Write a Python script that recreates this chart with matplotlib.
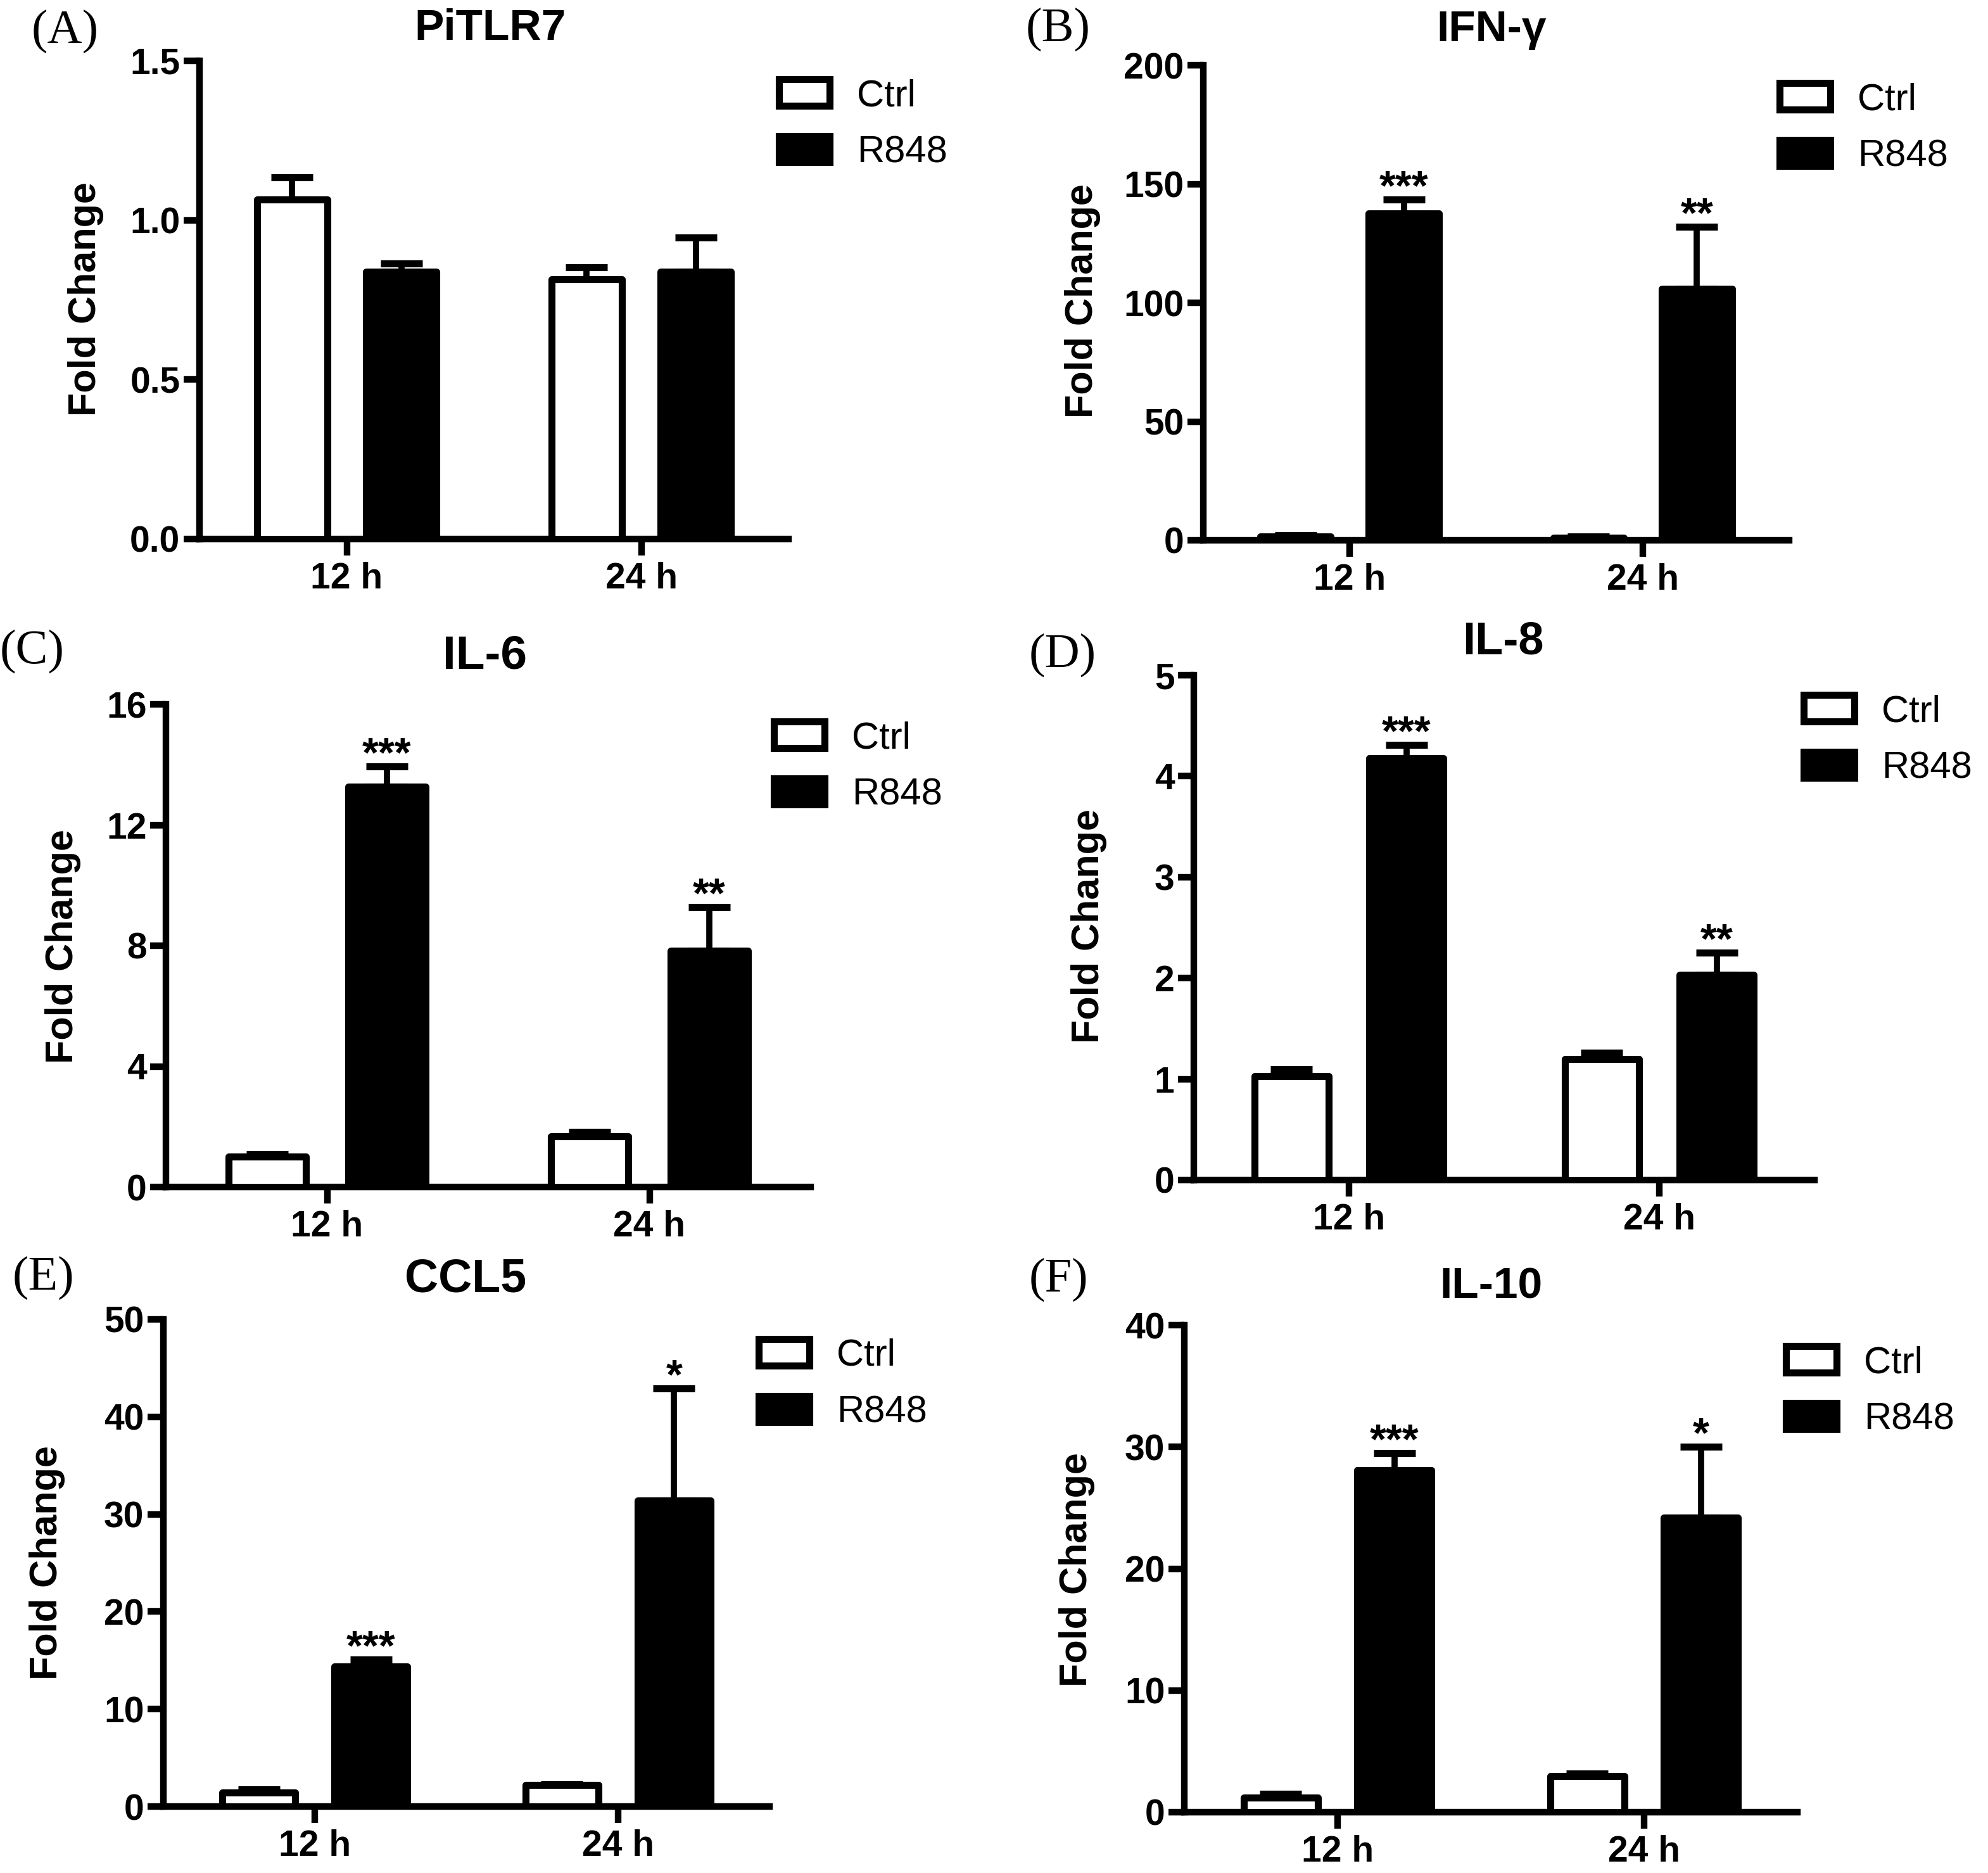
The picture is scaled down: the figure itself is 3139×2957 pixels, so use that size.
import numpy as np
import matplotlib
matplotlib.use('Agg')
from matplotlib import pyplot as plt

W, H = 3139, 2957
DPI = 100

groups = ['12 h', '24 h']
series_names = ['Ctrl', 'R848']

# (A) PiTLR7
tlr7_ctrl = [1.064, 0.815]
tlr7_ctrl_err = [0.071, 0.037]
tlr7_r848 = [0.839, 0.839]
tlr7_r848_err = [0.025, 0.107]
tlr7_stars = ['', '']
tlr7_yticks = [0.0, 0.5, 1.0, 1.5]

# (B) IFN-γ
ifng_ctrl = [1.6, 1.1]
ifng_ctrl_err = [0.6, 0.4]
ifng_r848 = [137.7, 106.0]
ifng_r848_err = [5.7, 26.0]
ifng_stars = ['***', '**']
ifng_yticks = [0, 50, 100, 150, 200]

# (C) IL-6
il6_ctrl = [1.0, 1.67]
il6_ctrl_err = [0.1, 0.16]
il6_r848 = [13.26, 7.84]
il6_r848_err = [0.69, 1.44]
il6_stars = ['***', '**']
il6_yticks = [0, 4, 8, 12, 16]

# (D) IL-8
il8_ctrl = [1.03, 1.20]
il8_ctrl_err = [0.07, 0.06]
il8_r848 = [4.18, 2.03]
il8_r848_err = [0.13, 0.22]
il8_stars = ['***', '**']
il8_yticks = [0, 1, 2, 3, 4, 5]

# (E) CCL5
ccl5_ctrl = [1.44, 2.19]
ccl5_ctrl_err = [0.33, 0.08]
ccl5_r848 = [14.4, 31.4]
ccl5_r848_err = [0.66, 11.5]
ccl5_stars = ['***', '*']
ccl5_yticks = [0, 10, 20, 30, 40, 50]

# (F) IL-10
il10_ctrl = [1.22, 2.98]
il10_ctrl_err = [0.27, 0.17]
il10_r848 = [28.1, 24.2]
il10_r848_err = [1.4, 5.8]
il10_stars = ['***', '*']
il10_yticks = [0, 10, 20, 30, 40]

plt.rcParams['font.family'] = ['Liberation Sans', 'DejaVu Sans']

# panel: label, title, data..., layout in pixels (left, right, top, bottom),
# title (x, y, size), panel label (x, y), ylabel (x, y), legend (x, y of first row centre)
panels = [
    ('(A)', 'PiTLR7', tlr7_ctrl, tlr7_ctrl_err, tlr7_r848, tlr7_r848_err, tlr7_stars, tlr7_yticks, '%.1f',
     (315, 1245, 96, 851), (774, 45, 50), (50, 49), (135, 472), (1230, 147)),
    ('(B)', 'IFN-γ', ifng_ctrl, ifng_ctrl_err, ifng_r848, ifng_r848_err, ifng_stars, ifng_yticks, '%d',
     (1900, 2825, 103, 853), (2355, 47, 50), (1620, 46), (1710, 475), (2810, 153)),
    ('(C)', 'IL-6', il6_ctrl, il6_ctrl_err, il6_r848, il6_r848_err, il6_stars, il6_yticks, '%d',
     (262, 1280, 1112, 1874), (766, 1036, 54), (0, 1028), (100, 1494), (1222, 1161)),
    ('(D)', 'IL-8', il8_ctrl, il8_ctrl_err, il8_r848, il8_r848_err, il8_stars, il8_yticks, '%d',
     (1885, 2865, 1066, 1863), (2373, 1013, 52), (1625, 1034), (1720, 1462), (2848, 1119)),
    ('(E)', 'CCL5', ccl5_ctrl, ccl5_ctrl_err, ccl5_r848, ccl5_r848_err, ccl5_stars, ccl5_yticks, '%d',
     (258, 1215, 2083, 2852), (735, 2020, 53), (20, 2017), (75, 2467), (1198, 2136)),
    ('(F)', 'IL-10', il10_ctrl, il10_ctrl_err, il10_r848, il10_r848_err, il10_stars, il10_yticks, '%d',
     (1870, 2838, 2092, 2861), (2355, 2032, 50), (1625, 2020), (1700, 2478), (2820, 2147)),
]

LW = 7.5
fig = plt.figure(figsize=(W / DPI, H / DPI), dpi=DPI)


def fx(px):
    return px / W


def fy(py):
    return 1 - py / H


x = np.arange(len(groups))
off = 0.185
bw = 0.24
leg_fs = 43

for (lab, title, ctrl, ctrl_err, r848, r848_err, stars, yticks, fmt,
     box, tpos, lpos, ypos, legpos) in panels:
    l, r, t, b = box
    ax = fig.add_axes([fx(l), fy(b), (r - l) / W, (b - t) / H])
    ax.bar(x - off, ctrl, bw, color='white', edgecolor='black', linewidth=8,
           joinstyle='round', label=series_names[0], zorder=3)
    ax.bar(x + off, r848, bw, color='black', edgecolor='black', linewidth=8,
           joinstyle='round', label=series_names[1], zorder=3)
    ax.errorbar(x - off, ctrl, yerr=[np.zeros(2), ctrl_err], fmt='none', ecolor='black',
                elinewidth=7, capsize=24, capthick=8, zorder=2)
    ax.errorbar(x + off, r848, yerr=[np.zeros(2), r848_err], fmt='none', ecolor='black',
                elinewidth=7, capsize=24, capthick=8, zorder=2)
    for i, s in enumerate(stars):
        if s:
            ax.annotate(s, xy=(x[i] + off, r848[i] + r848_err[i]), xytext=(0, 0),
                        textcoords='offset points', ha='center', va='baseline',
                        fontsize=48, fontweight='bold')
    ax.set_xlim(-0.5, 1.5)
    ax.set_ylim(yticks[0], yticks[-1])
    ax.set_yticks(yticks)
    ax.set_yticklabels([fmt % v for v in yticks])
    ax.set_xticks(x)
    ax.set_xticklabels(groups)
    for sp in ['top', 'right']:
        ax.spines[sp].set_visible(False)
    for sp in ['left', 'bottom']:
        ax.spines[sp].set_linewidth(LW)
        ax.spines[sp].set_capstyle('projecting')
    ax.tick_params(axis='y', length=18, width=LW, labelsize=41, pad=4)
    ax.tick_params(axis='x', length=19, width=LW, labelsize=41, pad=7)
    for tl in ax.get_xticklabels() + ax.get_yticklabels():
        tl.set_fontweight('bold')
    ax.legend(loc='upper left', bbox_to_anchor=(fx(legpos[0]), fy(legpos[1] - 23)),
              bbox_transform=fig.transFigure, frameon=False, fontsize=leg_fs,
              borderpad=0, borderaxespad=0, handlelength=1.34, handleheight=0.69,
              handletextpad=0.72, labelspacing=0.58)
    fig.text(fx(tpos[0]), fy(tpos[1]), title, ha='center', va='center',
             fontsize=tpos[2], fontweight='bold')
    fig.text(fx(lpos[0]), fy(lpos[1]), lab, ha='left', va='center', fontsize=55,
             family='Liberation Serif')
    fig.text(fx(ypos[0]), fy(ypos[1]), 'Fold Change', ha='center', va='center',
             rotation=90, fontsize=44, fontweight='bold')

fig.savefig('out.png', dpi=DPI)
